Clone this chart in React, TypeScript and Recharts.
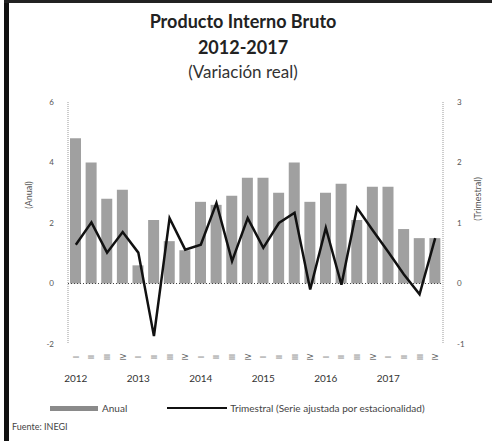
import React from 'react';
import { ComposedChart, Bar, Line, XAxis, YAxis, ReferenceLine } from 'recharts';

const years = ['2012', '2013', '2014', '2015', '2016', '2017'];
const quarterLabels = ['I', 'II', 'III', 'IV'];

// Variación anual (%), eje izquierdo
const anual = [
  4.8, 4.0, 2.8, 3.1,
  0.6, 2.1, 1.4, 1.1,
  2.7, 2.6, 2.9, 3.5,
  3.5, 3.0, 4.0, 2.7,
  3.0, 3.3, 2.1, 3.2,
  3.2, 1.8, 1.5, 1.5,
];

// Variación trimestral (%), serie desestacionalizada, eje derecho
const trimestral = [
  0.64, 1.01, 0.51, 0.85,
  0.51, -0.87, 1.08, 0.56,
  0.64, 1.33, 0.37, 1.08,
  0.59, 1.0, 1.17, -0.1,
  0.92, -0.02, 1.25, 0.88,
  0.52, 0.15, -0.18, 0.75,
];

const leftTicks = [-2, 0, 2, 4, 6];
const rightTicks = [-1, 0, 1, 2, 3];

const data = years.flatMap((y, yi) =>
  quarterLabels.map((q, qi) => ({
    period: `${y}-${q}`,
    anual: anual[yi * 4 + qi],
    trimestral: trimestral[yi * 4 + qi],
  }))
);

const FONT = 'Lato, "Open Sans", sans-serif';
const BAR_GRAY = '#a0a0a0';

function PeriodTick(props: any) {
  const { x, y, payload } = props;
  const [year, q] = String(payload.value).split('-');
  return (
    <g>
      <text
        x={x}
        y={y + 5}
        transform={`rotate(-90 ${x} ${y + 5})`}
        textAnchor="middle"
        dominantBaseline="central"
        fontSize={7}
        fill="#555"
        fontFamily={FONT}
      >
        {q}
      </text>
      {q === 'I' && (
        <text x={x} y={y + 30} textAnchor="middle" fontSize={10} fill="#333" fontFamily={FONT}>
          {year}
        </text>
      )}
    </g>
  );
}

export default function App() {
  return (
    <div
      style={{
        position: 'fixed',
        left: 0,
        top: 0,
        width: 492,
        height: 441,
        background: '#fff',
        fontFamily: FONT,
        overflow: 'hidden',
      }}
    >
      <div style={{ position: 'absolute', left: 4, top: 0, width: 5, height: 441, background: '#111' }} />
      <div style={{ position: 'absolute', left: 4, top: 0, width: 488, height: 3, background: '#222' }} />

      <div style={{ position: 'absolute', left: 0, width: 486, top: 8, textAlign: 'center', color: '#222' }}>
        <div style={{ fontSize: 18, fontWeight: 700, lineHeight: '26px' }}>Producto Interno Bruto</div>
        <div style={{ fontSize: 18, fontWeight: 700, lineHeight: '26px' }}>2012-2017</div>
        <div style={{ fontSize: 17, lineHeight: '24px', color: '#333' }}>(Variación real)</div>
      </div>

      <div style={{ position: 'absolute', left: 0, top: 0 }}>
        <ComposedChart width={492} height={441} data={data} margin={{ top: 102, right: 0, left: 0, bottom: 57 }}>
          <XAxis
            dataKey="period"
            xAxisId={0}
            interval={0}
            height={40}
            tickLine={false}
            axisLine={false}
            tick={<PeriodTick />}
          />
          <YAxis
            yAxisId="left"
            orientation="left"
            width={68}
            domain={[-2, 6]}
            ticks={leftTicks}
            tickLine={false}
            tickSize={0}
            tickMargin={14}
            axisLine={{ stroke: '#999', strokeDasharray: '1 1' }}
            tick={{ fontSize: 8, fill: '#555', fontFamily: FONT }}
          />
          <YAxis
            yAxisId="right"
            orientation="right"
            width={49}
            domain={[-1, 3]}
            ticks={rightTicks}
            tickLine={false}
            tickSize={0}
            tickMargin={14}
            axisLine={{ stroke: '#999', strokeDasharray: '1 1' }}
            tick={{ fontSize: 8, fill: '#555', fontFamily: FONT }}
          />
          <ReferenceLine yAxisId="left" y={0} stroke="#444" strokeDasharray="1 2" />
          <Bar yAxisId="left" dataKey="anual" fill={BAR_GRAY} barSize={11} isAnimationActive={false} />
          <Line
            yAxisId="right"
            type="linear"
            dataKey="trimestral"
            stroke="#111"
            strokeWidth={2.5}
            dot={false}
            isAnimationActive={false}
          />
        </ComposedChart>
      </div>

      <div
        style={{
          position: 'absolute',
          left: 28,
          top: 195,
          transform: 'translate(-50%, -50%) rotate(-90deg)',
          fontSize: 9,
          color: '#555',
          whiteSpace: 'nowrap',
        }}
      >
        (Anual)
      </div>
      <div
        style={{
          position: 'absolute',
          left: 477,
          top: 199,
          transform: 'translate(-50%, -50%) rotate(-90deg)',
          fontSize: 9,
          color: '#555',
          whiteSpace: 'nowrap',
        }}
      >
        (Trimestral)
      </div>

      <div style={{ position: 'absolute', left: 50, top: 402, display: 'flex', alignItems: 'center', fontSize: 10, color: '#444' }}>
        <span style={{ display: 'inline-block', width: 48, height: 5, background: '#8a8a8a', marginRight: 4 }} />
        <span>Anual</span>
        <span style={{ display: 'inline-block', width: 60, height: 2, background: '#111', marginLeft: 40, marginRight: 3 }} />
        <span>Trimestral (Serie ajustada por estacionalidad)</span>
      </div>
      <div style={{ position: 'absolute', left: 12, top: 421, fontSize: 9, color: '#444' }}>Fuente: INEGI</div>
    </div>
  );
}
